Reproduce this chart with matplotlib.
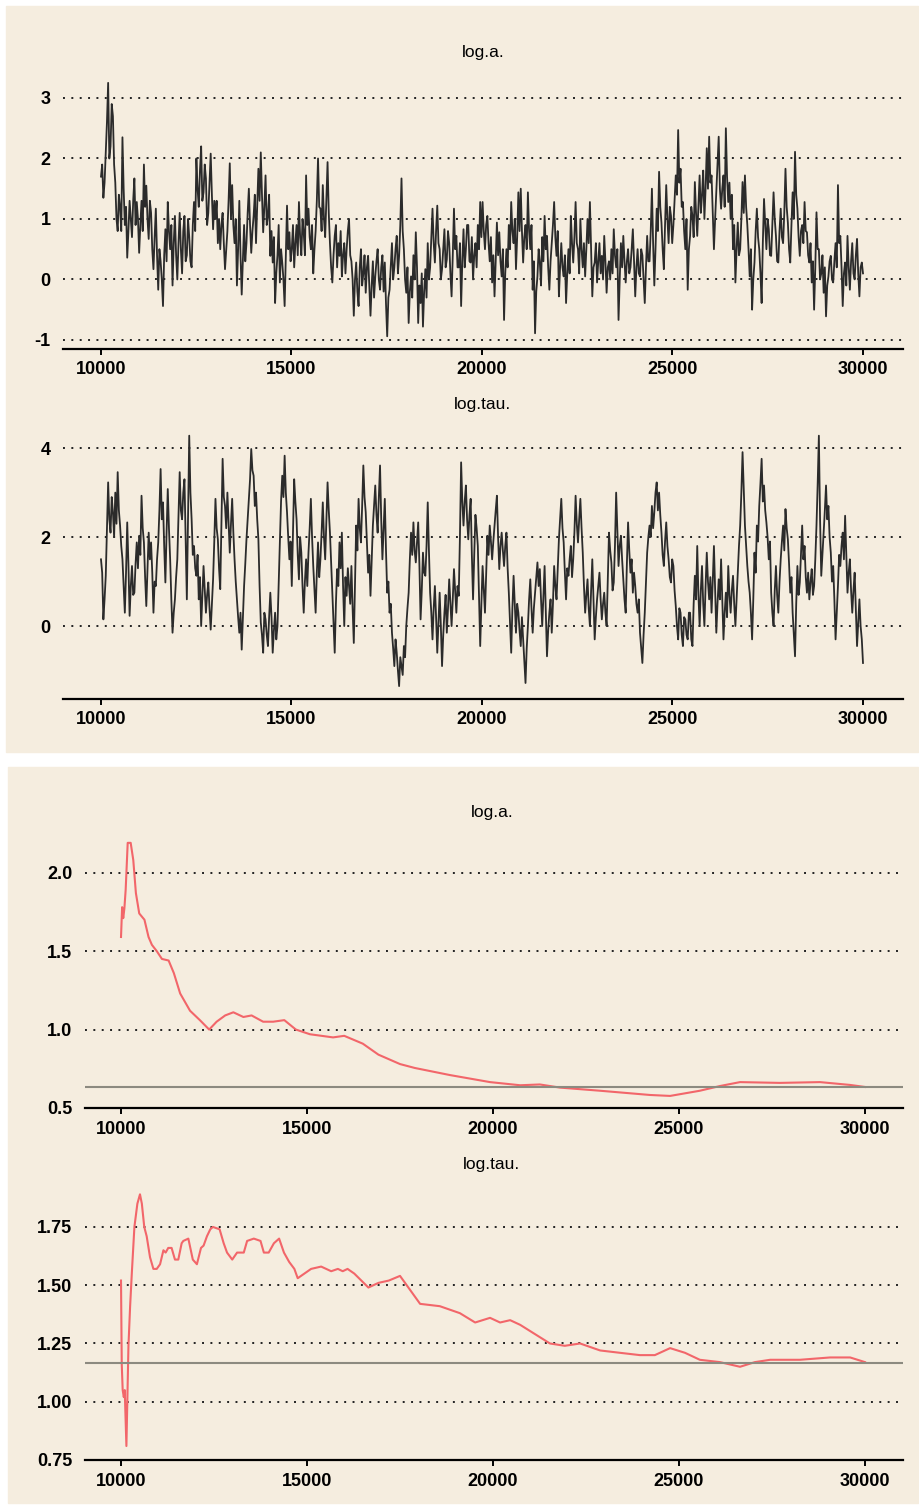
import numpy as np
import matplotlib.pyplot as plt
from matplotlib.patches import Rectangle

# ==============================================================
# data
# trace of log.a, iterations 10000..30000 (16 values per 500 iterations)
trace_loga = [
    1.7, 1.9, 1.35, 1.6, 2.1, 2.6, 3.25, 2.0, 2.2, 2.9, 2.7, 1.9, 1.6, 1.0, 0.8, 1.4,
    1.2, 0.8, 2.35, 1.5, 0.9, 1.2, 0.36, 0.8, 1.3, 1.0, 0.7, 1.3, 1.67, 0.9, 1.28, 1.0,
    0.44, 0.9, 1.3, 0.8, 1.9, 1.2, 1.55, 1.0, 0.67, 1.3, 1.1, 0.5, 0.17, 0.7, 1.17, 0.4,
    -0.17, 0.5, 0.3, 0.0, -0.44, 0.4, 0.83, 0.3, 1.28, 0.8, 0.5, 0.9, -0.1, 0.6, 1.05, 0.4,
    0.0, 0.6, 1.1, 0.5, 0.1, 0.8, 1.05, 0.3, 0.4, 1.0, 0.7, 0.3, 0.2, 0.9, 1.28, 0.8,
    2.0, 1.5, 1.2, 1.8, 2.2, 1.3, 1.44, 1.9, 1.67, 0.9, 1.1, 1.6, 2.08, 1.4, 0.83, 1.3,
    1.0, 1.3, 0.6, 1.0, 0.5, 0.9, 1.1, 0.6, 0.17, 0.5, 0.8, 1.3, 1.92, 1.0, 1.56, 0.9,
    0.6, 1.0, -0.1, 0.5, 1.3, 0.4, -0.25, 0.3, 0.9, 0.3, 0.6, 1.1, 1.5, 0.9, 0.44, 0.8,
    1.05, 1.4, 0.6, 1.2, 1.83, 1.3, 2.1, 1.4, 0.78, 1.2, 1.72, 0.9, 1.05, 1.4, 0.39, 0.8,
    0.28, 0.7, -0.39, 0.1, 0.4, 0.9, -0.05, 0.5, 0.28, 0.0, -0.44, 0.4, 1.22, 0.5, 0.78, 0.3,
    0.5, 0.9, 0.2, 0.6, 0.9, 0.4, 1.28, 0.7, 0.4, 1.0, 0.78, 0.4, 1.72, 0.9, 1.17, 0.7,
    0.5, 0.9, 0.1, 0.5, 0.8, 1.3, 2.0, 1.2, 1.17, 0.8, 1.56, 1.0, 0.7, 1.3, 1.94, 1.1,
    0.6, 0.2, -0.05, 0.4, 0.72, 0.9, 0.2, 0.6, 0.39, 0.8, 0.05, 0.4, 0.6, 0.1, 0.5, 0.8,
    1.0, 0.4, 0.3, 0.0, -0.6, 0.0, 0.28, -0.2, -0.44, 0.2, 0.5, -0.1, 0.1, 0.4, -0.22, 0.2,
    0.39, -0.1, -0.6, -0.1, 0.3, -0.3, 0.05, 0.3, 0.5, 0.0, -0.17, 0.2, 0.4, -0.2, 0.28, -0.4,
    -0.94, -0.3, -0.17, 0.2, 0.6, 0.0, 0.2, 0.5, 0.72, 0.1, 0.39, 0.9, 1.67, 0.8, 0.5, 0.0,
    -0.22, 0.2, -0.72, -0.2, 0.05, -0.3, 0.4, 0.0, 0.78, 0.2, -0.72, -0.1, -0.39, 0.1, -0.78, -0.2,
    0.17, -0.3, 0.6, 0.0, 0.2, 0.7, 1.17, 0.6, 0.28, 0.8, 1.22, 0.6, 0.5, 0.0, 0.17, 0.5,
    0.83, 0.2, 0.33, 0.8, 0.6, 0.1, -0.28, 0.4, 1.17, 0.5, 0.72, 0.2, 0.2, 0.6, -0.44, 0.3,
    0.83, 0.2, 0.5, 0.9, 0.9, 0.3, 0.28, 0.7, 0.0, 0.4, 0.6, 0.2, 0.9, 0.5, 1.28, 0.7,
    1.28, 0.8, 0.5, 0.9, 1.05, 0.6, 0.3, 0.7, -0.05, 0.4, -0.28, 0.3, 0.94, 0.4, 0.78, 0.3,
    0.05, 0.5, -0.67, 0.1, 0.5, 0.2, 0.9, 0.5, 1.28, 0.8, 0.6, 1.0, 0.17, 0.7, 1.44, 0.8,
    1.5, 0.8, 0.28, 0.7, 0.9, 0.5, 1.44, 0.8, 0.5, 0.9, -0.17, 0.3, -0.89, -0.2, 0.05, 0.5,
    0.28, -0.1, 0.7, 0.3, 1.05, 0.5, 0.72, 0.2, -0.17, 0.3, 0.6, 0.9, 1.28, 0.7, 0.39, 0.8,
    -0.28, 0.2, 0.6, 0.2, 0.05, 0.4, -0.39, 0.1, 0.5, 0.1, 1.05, 0.6, 0.28, 0.7, 1.28, 0.6,
    0.5, 0.1, 1.0, 0.5, 0.2, 0.6, 0.05, 0.5, 1.0, 0.6, 1.28, 0.5, -0.28, 0.2, 0.28, 0.6,
    -0.05, 0.3, 0.6, 0.1, 0.39, 0.0, 0.72, 0.3, -0.22, 0.2, 0.3, 0.0, 0.5, 0.1, 0.83, 0.4,
    0.2, 0.5, -0.67, 0.0, 0.6, 0.2, 0.72, 0.3, -0.05, 0.3, 0.5, 0.1, 0.2, 0.5, 0.83, 0.3,
    -0.28, 0.2, 0.5, 0.1, 0.05, 0.5, 0.4, 0.0, -0.39, 0.2, 0.72, 0.3, 0.3, 0.8, 1.5, 0.6,
    -0.1, 0.5, 1.17, 0.8, 1.78, 1.2, 0.94, 0.5, 0.17, 0.9, 1.56, 1.0, 0.6, 1.2, 1.05, 0.6,
    0.9, 1.3, 1.72, 1.4, 2.47, 1.6, 1.83, 1.2, 1.28, 0.8, 0.5, 1.0, -0.17, 0.5, 0.72, 1.2,
    1.05, 0.7, 1.61, 1.1, 0.72, 1.2, 1.72, 1.1, 1.39, 1.8, 1.0, 1.5, 2.17, 1.5, 2.36, 1.6,
    1.72, 1.1, 0.5, 1.0, 1.44, 1.9, 2.36, 1.5, 1.17, 1.5, 1.72, 1.2, 2.5, 1.7, 1.28, 1.6,
    1.0, 1.4, 0.5, 0.9, -0.05, 0.5, 0.94, 0.4, 0.5, 1.0, 1.61, 1.1, 1.72, 1.2, 0.9, 0.5,
    0.05, 0.5, -0.5, 0.0, 0.28, 0.8, 1.17, 0.7, 0.5, 0.1, -0.39, 0.6, 1.33, 0.9, 0.5, 1.0,
    0.83, 0.4, 0.39, 0.9, 1.44, 1.0, 0.72, 0.3, 0.28, 0.8, 1.17, 0.7, 0.6, 1.1, 1.83, 1.2,
    0.94, 0.5, 0.28, 0.9, 1.44, 1.0, 2.11, 1.4, 1.17, 0.7, 0.39, 0.8, 0.9, 0.6, 1.28, 0.8,
    0.78, 0.4, 0.28, 0.6, -0.05, 0.3, -0.5, 0.2, 1.11, 0.5, 0.5, 0.0, 0.1, 0.4, -0.22, 0.2,
    -0.61, -0.1, 0.05, 0.3, 0.39, 0.0, -0.05, 0.3, 0.6, 0.2, 1.56, 0.6, 0.72, 0.2, -0.44, 0.1,
    0.28, -0.1, 0.72, 0.2, -0.17, 0.3, 0.6, 0.1, 0.0, 0.4, 0.67, 0.1, -0.28, 0.2, 0.28, 0.1,
]

# trace of log.tau
trace_logtau = [
    1.5, 1.2, 0.15, 0.6, 1.13, 2.2, 3.23, 2.4, 2.1, 2.9, 2.56, 2.0, 3.0, 2.3, 3.46, 2.6,
    2.26, 1.8, 1.5, 0.9, 0.3, 1.2, 2.33, 1.4, 0.23, 0.9, 1.35, 0.7, 0.75, 1.4, 1.88, 1.3,
    2.03, 1.6, 2.93, 2.2, 1.88, 1.1, 0.45, 1.3, 2.1, 1.5, 1.88, 1.2, 0.3, 1.0, 0.9, 1.5,
    1.88, 2.6, 3.53, 2.4, 2.78, 1.8, 0.98, 2.1, 3.08, 2.2, 1.5, 0.6, -0.15, 0.3, 0.6, 1.1,
    1.5, 2.5, 3.46, 2.6, 2.4, 3.0, 3.3, 1.9, 0.6, 2.5, 4.28, 3.0, 2.4, 1.6, 1.8, 1.3,
    1.13, 1.6, 0.6, 1.1, 0.0, 0.7, 1.35, 0.8, 0.3, 0.7, 0.98, 0.4, -0.08, 0.5, 1.05, 1.9,
    2.86, 2.2, 1.95, 1.3, 0.83, 2.3, 3.76, 2.9, 2.7, 2.2, 3.0, 2.3, 1.65, 2.3, 2.86, 2.1,
    1.5, 1.0, 0.6, 0.2, -0.15, 0.3, -0.53, 0.2, 0.9, 1.4, 1.95, 2.4, 2.86, 3.3, 3.98, 3.5,
    3.38, 2.7, 3.0, 2.4, 1.95, 0.9, 0.08, -0.2, -0.6, 0.3, 0.15, -0.2, -0.45, 0.2, 0.75, 0.2,
    -0.6, -0.1, 0.3, -0.3, 0.0, 0.9, 1.88, 2.8, 3.38, 2.9, 3.83, 3.0, 2.56, 2.0, 1.5, 1.9,
    0.9, 2.1, 3.3, 2.8, 2.4, 1.6, 1.05, 2.0, 1.65, 0.9, 0.3, 1.0, 1.5, 0.9, 1.65, 2.2,
    2.86, 2.0, 1.35, 0.8, 0.3, 1.2, 1.88, 1.1, 1.5, 2.1, 2.78, 2.0, 1.5, 2.4, 3.23, 2.6,
    2.1, 1.4, 0.75, 0.1, -0.6, 0.5, 1.28, 0.9, 1.88, 1.3, 2.1, 0.9, 0.0, 1.1, 0.68, 1.3,
    0.9, 0.5, 1.35, 0.4, -0.38, 1.0, 2.26, 1.7, 2.86, 2.2, 1.88, 2.7, 3.61, 2.9, 2.56, 1.9,
    1.2, 1.6, 0.68, 1.5, 2.26, 2.7, 3.16, 2.5, 2.1, 2.9, 3.61, 2.4, 1.5, 2.2, 2.86, 1.7,
    0.75, 1.0, 0.3, 0.5, -0.15, -0.5, -0.9, -0.3, -0.6, -1.0, -1.35, -0.7, -0.9, -1.1, -0.45, -0.7,
    0.0, 0.4, 0.75, 1.5, 2.1, 1.6, 2.33, 1.7, 1.43, 1.9, 2.33, 1.4, 0.15, 0.8, 1.65, 1.2,
    1.13, 1.8, 2.78, 1.7, 0.75, 0.3, -0.3, 0.4, 0.9, 0.2, -0.6, 0.1, 0.75, 0.0, -0.9, -0.2,
    0.3, 0.7, -0.15, 0.4, 1.05, 0.5, 0.0, 0.6, 1.28, 0.8, 0.3, 0.9, 0.68, 2.0, 3.68, 2.8,
    2.26, 2.8, 3.16, 2.4, 1.95, 2.5, 2.86, 1.6, 0.6, 1.6, 2.5, 2.2, 1.8, 0.7, -0.45, 0.5,
    1.35, 0.8, 0.3, 1.2, 2.03, 1.6, 2.26, 1.9, 1.5, 1.9, 2.26, 2.6, 2.93, 2.0, 1.28, 1.8,
    2.1, 1.7, 1.35, 1.8, 2.1, 1.3, 0.75, 0.1, -0.6, 0.4, 1.13, 0.5, -0.15, 0.5, 0.3, -0.1,
    -0.45, 0.2, -0.3, -0.8, -1.28, -0.5, 0.0, 0.6, 1.05, 0.4, -0.15, 0.4, 0.75, 1.1, 1.43, 0.9,
    1.28, 0.6, 0.0, 0.7, 1.35, 0.3, -0.68, -0.1, 0.3, 0.6, -0.15, 0.5, 1.35, 0.9, 0.6, 1.3,
    1.95, 2.4, 2.86, 2.2, 1.88, 1.2, 0.6, 1.3, 1.13, 1.5, 1.8, 1.1, 1.5, 2.1, 2.93, 2.3,
    1.88, 2.4, 2.86, 2.2, 1.65, 0.9, 0.3, 0.7, 1.05, 0.4, 0.0, 0.8, 1.5, 0.6, -0.3, 0.2,
    0.6, 0.9, 1.2, 0.6, 0.15, 0.5, 0.75, 0.3, 0.0, 1.1, 2.1, 1.7, 1.43, 0.8, 0.98, 1.8,
    3.0, 2.2, 1.35, 1.8, 2.03, 1.5, 1.05, 0.6, 0.3, 1.4, 2.33, 1.7, 1.2, 1.5, 0.75, 1.2,
    0.9, 0.5, 0.3, 0.6, -0.15, -0.5, -0.83, -0.2, 0.3, 1.0, 1.65, 2.0, 2.26, 2.0, 2.7, 2.2,
    2.56, 3.0, 3.23, 2.6, 3.0, 2.5, 2.1, 1.6, 1.35, 1.9, 2.33, 1.8, 1.5, 1.1, 0.98, 1.5,
    1.35, 0.8, 0.45, 0.0, -0.3, 0.4, 0.3, -0.2, -0.45, 0.2, 0.15, -0.2, -0.3, 0.3, 0.3, -0.3,
    -0.45, 0.5, 1.13, 0.6, 1.8, 0.7, 0.0, 0.8, 1.35, 0.5, 0.0, 0.9, 1.65, 1.0, 0.6, 1.1,
    0.3, 1.0, 1.8, 0.8, -0.15, 0.5, 1.05, 0.6, 1.5, 0.6, -0.3, 0.3, 0.75, 0.2, 1.35, 0.7,
    0.3, 0.8, 1.13, 0.5, 0.0, 0.6, 1.2, 1.8, 2.26, 3.0, 3.91, 3.1, 2.26, 1.8, 1.35, 1.0,
    0.75, 0.3, -0.3, 0.6, 1.65, 1.2, 2.26, 1.9, 2.7, 3.2, 3.76, 2.8, 3.16, 2.6, 2.33, 2.0,
    1.5, 1.9, 0.75, 0.3, 0.0, 0.8, 1.35, 0.7, 0.3, 1.0, 1.5, 1.9, 2.26, 1.7, 2.63, 2.2,
    1.95, 1.4, 0.75, 1.1, 0.3, -0.2, -0.68, 0.5, 1.35, 0.7, 0.98, 1.6, 2.26, 1.5, 1.8, 1.1,
    0.75, 1.2, 0.6, 1.0, 1.28, 0.7, 0.9, 1.5, 2.26, 3.2, 4.28, 2.4, 1.13, 1.6, 2.1, 2.6,
    3.16, 2.4, 2.7, 2.0, 1.65, 1.0, 1.35, 0.6, -0.3, 0.3, 0.9, 1.6, 1.35, 1.8, 2.1, 1.5,
    2.48, 1.6, 0.75, 1.2, 1.5, 0.8, 0.3, 0.8, 1.2, 0.4, -0.45, 0.1, 0.6, 0.0, -0.3, -0.83,
]

# running mean of log.a
mean_loga_iter = [10000, 10030, 10060, 10090, 10125, 10180, 10260, 10330, 10400, 10490,
                  10630, 10740, 10830, 10960, 11100, 11280, 11420, 11590, 11855, 12120,
                  12370, 12570, 12800, 13020, 13290, 13510, 13820, 14090, 14390, 14700,
                  15080, 15700, 16000, 16500, 16920, 17500, 17900, 18840, 19920, 20730,
                  21260, 21800, 22880, 24220, 24760, 25560, 26100, 26640, 27710, 28790,
                  29600, 30000]
mean_loga = [1.59, 1.78, 1.71, 1.77, 1.89, 2.19, 2.19, 2.08, 1.87, 1.74,
             1.70, 1.59, 1.54, 1.50, 1.45, 1.44, 1.36, 1.23, 1.12, 1.06,
             1.00, 1.05, 1.09, 1.11, 1.08, 1.09, 1.05, 1.05, 1.06, 1.00,
             0.97, 0.95, 0.96, 0.91, 0.84, 0.78, 0.755, 0.71, 0.665, 0.645,
             0.65, 0.63, 0.61, 0.583, 0.577, 0.61, 0.64, 0.665, 0.66, 0.665,
             0.647, 0.634]
final_loga = 0.634

# running mean of log.tau
mean_logtau_iter = [10000, 10020, 10045, 10075, 10100, 10145, 10200, 10245, 10290, 10360,
                    10440, 10510, 10560, 10625, 10690, 10780, 10870, 10960, 11050, 11140,
                    11200, 11270, 11360, 11450, 11540, 11630, 11675, 11810, 11930, 12040,
                    12150, 12220, 12310, 12400, 12470, 12650, 12760, 12850, 12990, 13120,
                    13300, 13390, 13570, 13750, 13840, 13970, 14110, 14250, 14380, 14520,
                    14660, 14750, 14930, 15110, 15380, 15650, 15830, 15960, 16090, 16270,
                    16650, 16920, 17200, 17500, 17770, 18040, 18570, 19110, 19520, 19920,
                    20190, 20460, 20730, 21130, 21530, 21930, 22340, 22880, 23410, 23950,
                    24350, 24760, 25160, 25560, 26100, 26640, 27040, 27450, 28250, 29060,
                    29600, 30000]
mean_logtau = [1.52, 1.16, 1.05, 1.02, 1.05, 0.81, 1.24, 1.41, 1.55, 1.75,
               1.85, 1.89, 1.85, 1.75, 1.71, 1.62, 1.57, 1.57, 1.59, 1.65,
               1.64, 1.66, 1.66, 1.61, 1.61, 1.68, 1.69, 1.70, 1.61, 1.59,
               1.66, 1.67, 1.71, 1.74, 1.75, 1.74, 1.68, 1.64, 1.61, 1.64,
               1.64, 1.69, 1.70, 1.69, 1.64, 1.64, 1.68, 1.70, 1.64, 1.60,
               1.57, 1.53, 1.55, 1.57, 1.58, 1.56, 1.57, 1.56, 1.57, 1.55,
               1.49, 1.51, 1.52, 1.54, 1.48, 1.42, 1.41, 1.38, 1.34, 1.36,
               1.34, 1.35, 1.33, 1.29, 1.25, 1.24, 1.25, 1.22, 1.21, 1.20,
               1.20, 1.23, 1.21, 1.18, 1.17, 1.15, 1.17, 1.18, 1.18, 1.19,
               1.19, 1.17]
final_logtau = 1.167

x_ticks = [10000, 15000, 20000, 25000, 30000]

# ==============================================================
# Visualization
W, H = 920, 1505
BG = '#f5eddf'
TICKFONT = 13
TITLEFONT = 12.5
plt.rcParams['font.family'] = ['Liberation Sans', 'DejaVu Sans']

fig = plt.figure(figsize=(W / 100, H / 100), dpi=100)
fig.patch.set_facecolor('white')
fig.add_artist(Rectangle((6 / W, 1 - 752 / H), 912 / W, 746 / H,
                         transform=fig.transFigure, color=BG, zorder=0))
fig.add_artist(Rectangle((8 / W, 1 - 1503 / H), 910 / W, 736 / H,
                         transform=fig.transFigure, color=BG, zorder=0))


def make_ax(left, top, right, bottom, yticks, yfmt):
    ax = fig.add_axes([left / W, 1 - bottom / H, (right - left) / W, (bottom - top) / H])
    ax.set_facecolor('none')
    for s in ['top', 'right', 'left']:
        ax.spines[s].set_visible(False)
    ax.spines['bottom'].set_linewidth(1.6)
    ax.tick_params(axis='y', length=0, pad=9)
    ax.tick_params(axis='x', length=4, width=1.4, pad=5)
    ax.set_yticks(yticks)
    ax.set_yticklabels([yfmt.format(v) for v in yticks], fontsize=TICKFONT, fontweight='bold')
    ax.set_xticks(x_ticks)
    ax.set_xticklabels([str(v) for v in x_ticks], fontsize=TICKFONT, fontweight='bold')
    ax.grid(axis='y', color='#222222', ls=(0, (1, 3.3)), lw=1.4)
    ax.set_axisbelow(True)
    return ax


# trace plots
it_a = np.linspace(10000, 30000, len(trace_loga))
it_t = np.linspace(10000, 30000, len(trace_logtau))

ax1 = make_ax(63, 75, 903, 349, [-1, 0, 1, 2, 3], '{:g}')
ax1.plot(it_a, trace_loga, color='#2b2b2b', lw=1.3)
ax1.set_xlim(9003, 31050)
ax1.set_ylim(-1.15, 3.38)
fig.text(483 / W, 1 - 53 / H, 'log.a.', ha='center', va='center', fontsize=TITLEFONT)

ax2 = make_ax(63, 425, 903, 699, [0, 2, 4], '{:g}')
ax2.plot(it_t, trace_logtau, color='#2b2b2b', lw=1.3)
ax2.set_xlim(9003, 31050)
ax2.set_ylim(-1.64, 4.52)
fig.text(483 / W, 1 - 405 / H, 'log.tau.', ha='center', va='center', fontsize=TITLEFONT)

# running means
ax3 = make_ax(85, 835, 903, 1108, [0.5, 1.0, 1.5, 2.0], '{:.1f}')
ax3.plot(mean_loga_iter, mean_loga, color='#f2666a', lw=1.5)
ax3.axhline(final_loga, color='#8c8a80', lw=1.5)
ax3.set_xlim(9032, 31021)
ax3.set_ylim(0.5, 2.24)
fig.text(492 / W, 1 - 813 / H, 'log.a.', ha='center', va='center', fontsize=TITLEFONT)

ax4 = make_ax(85, 1185, 903, 1460, [0.75, 1.0, 1.25, 1.5, 1.75], '{:.2f}')
ax4.plot(mean_logtau_iter, mean_logtau, color='#f2666a', lw=1.5)
ax4.axhline(final_logtau, color='#8c8a80', lw=1.5)
ax4.set_xlim(9032, 31021)
ax4.set_ylim(0.75, 1.93)
fig.text(492 / W, 1 - 1165 / H, 'log.tau.', ha='center', va='center', fontsize=TITLEFONT)

fig.savefig('out.png', dpi=100)
